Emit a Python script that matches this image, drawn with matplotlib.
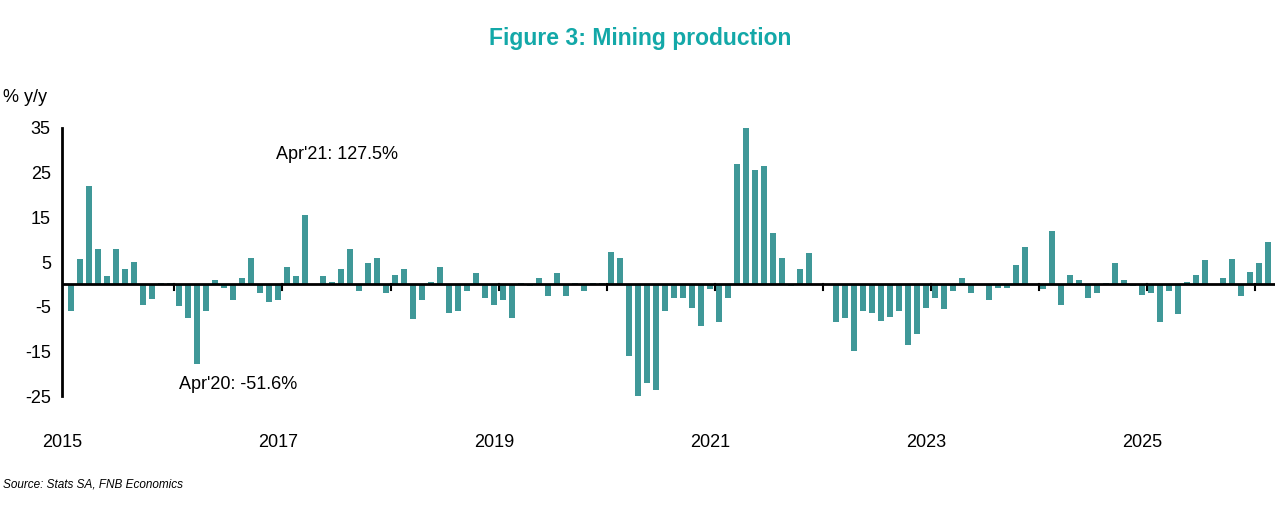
import numpy as np
import matplotlib.pyplot as plt

plt.rcParams['font.family'] = ['Liberation Sans', 'DejaVu Sans']

# monthly % y/y, Jan 2015 .. Feb 2026
y2015 = [-6, 5.6, 22, 8, 1.8, 8, 3.5, 5, -4.5, -3.3, 0.3, 0.3]
y2016 = [-4.8, -7.5, -17.8, -6, 1, -0.7, -3.4, 1.5, 6, -2, -4, -3.4]
y2017 = [4, 1.8, 15.5, 0.2, 1.8, 0.5, 3.5, 8, -1.5, 4.8, 6, -2]
y2018 = [2, 3.5, -7.8, -3.5, 0.5, 4, -6.3, -6, -1.5, 2.5, -3, -4.5]
y2019 = [-3.5, -7.5, 0.3, -0.3, 1.5, -2.6, 2.5, -2.6, 0.3, -1.5, 0.3, 0.3]
y2020 = [7.2, 6, -16, -51.6, -22, -23.5, -6, -3, -3, -5.2, -9.2, -1]
y2021 = [-8.5, -3, 27, 127.5, 25.5, 26.5, 11.5, 6, -0.3, 3.5, 7, 0.2]
y2022 = [0.2, -8.5, -7.5, -14.8, -6, -6.3, -8.2, -7.2, -6, -13.5, -11, -5.3]
y2023 = [-3, -5.6, -1.5, 1.5, -2, 0.2, -3.4, -0.8, -0.8, 4.3, 8.4, 0.2]
y2024 = [-1, 12, -4.5, 2, 1, -3, -2, 0.3, 4.7, 1, -0.3, -2.3]
y2025 = [-2, -8.5, -1.5, -6.6, 0.6, 2, 5.5, 0.2, 1.5, 5.8, -2.5, 2.8]
y2026 = [4.8, 9.6]
values = np.array(y2015 + y2016 + y2017 + y2018 + y2019 + y2020 + y2021
                  + y2022 + y2023 + y2024 + y2025 + y2026)
year_labels = ['2015', '2017', '2019', '2021', '2023', '2025']
yticks = [-25, -15, -5, 5, 15, 25, 35]

fig = plt.figure(figsize=(12.8, 5.2), dpi=100)
ax = fig.add_axes([0.0484, 0.238, 0.948, 0.516])

x = np.arange(len(values)) + 0.5
ax.bar(x, values, width=0.62, color='#3F9898', zorder=2)
ax.axhline(0, color='black', lw=2, zorder=3)
for k in range(1, 12):
    ax.plot([k * 12, k * 12], [0, -1.2], color='black', lw=1.5, zorder=3)

ax.set_xlim(0, 134.3)
ax.set_ylim(-25, 35)
ax.set_xticks([i * 24 - 0.5 for i in range(len(year_labels))])
ax.set_xticklabels(year_labels, fontsize=13)
ax.tick_params(axis='x', length=0, pad=27)
ax.set_yticks(yticks)
ax.set_yticklabels([str(v) for v in yticks], fontsize=13)
ax.tick_params(axis='y', length=0, pad=8)
for s in ['top', 'right', 'bottom']:
    ax.spines[s].set_visible(False)
ax.spines['left'].set_linewidth(2)
ax.spines['left'].set_bounds(-25, 35)

ax.text(23.3, 29, "Apr'21: 127.5%", fontsize=13, va='center')
ax.text(12.5, -22.4, "Apr'20: -51.6%", fontsize=13, va='center')

fig.text(0.5, 0.925, 'Figure 3: Mining production', ha='center', va='center',
         fontsize=16.5, fontweight='bold', color='#13A8A8')
fig.text(0.002, 0.813, '% y/y', fontsize=13, va='center')
fig.text(0.002, 0.068, 'Source: Stats SA, FNB Economics', fontsize=8.5,
         style='italic', va='center')

fig.savefig('out.png', dpi=100)
